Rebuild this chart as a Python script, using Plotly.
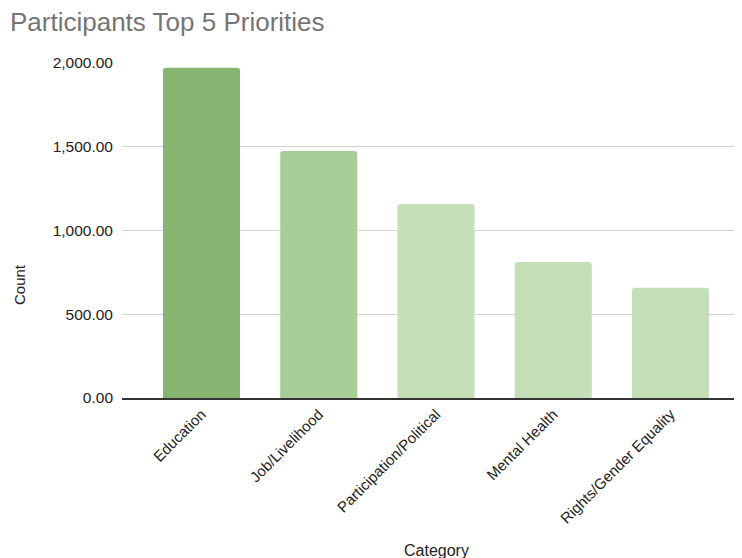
import plotly.graph_objects as go

categories = ["Education", "Job/Livelihood", "Participation/Political", "Mental Health", "Rights/Gender Equality"]
counts = [1972, 1475, 1158, 812, 658]
colors = ["#87b470", "#a9cd97", "#c5dfb9", "#c5dfb9", "#c5dfb9"]
y_ticks = [0, 500, 1000, 1500, 2000]

# the page shows the figure with an 8 px body margin, so offsets are compensated
OFF = 8
W, H = 742, 558
L, R, T, B = 122 - OFF, 0, 63 - OFF, H - (398 - OFF)
pw, ph = W - L - R, H - T - B
spacing = 117.25
x0 = -(201.5 - 122) / spacing
x1 = x0 + pw / spacing

fig = go.Figure(go.Bar(
    x=categories, y=counts,
    marker=dict(color=colors, line=dict(width=0), cornerradius=3),
    width=0.657,
))

fig.update_layout(
    width=W, height=H,
    paper_bgcolor="white", plot_bgcolor="white",
    font=dict(family="Liberation Sans, Arial, sans-serif", color="#222222"),
    title=dict(text="Participants Top 5 Priorities", x=(10 - OFF) / W, xanchor="left",
               xref="container", yref="container",
               y=1 - (22 - OFF) / H, yanchor="middle",
               font=dict(size=26, color="#757575")),
    margin=dict(l=L, r=R, t=T, b=B, autoexpand=False),
    showlegend=False,
    annotations=[
        dict(text="Category", xref="paper", yref="paper",
             x=(436 - OFF - L) / pw, y=(398 - 550) / ph,
             xanchor="center", yanchor="middle", showarrow=False,
             font=dict(size=16, color="#222222")),
        dict(text="Count", xref="paper", yref="paper",
             x=(19 - OFF - L) / pw, y=(398 - 285) / ph, textangle=-90,
             xanchor="center", yanchor="middle", showarrow=False,
             font=dict(size=15, color="#222222")),
    ],
)
fig.update_yaxes(
    range=[0, 2000], tickvals=y_ticks, tickformat=",.2f",
    showgrid=True, gridcolor="#d3d3d3", gridwidth=1,
    zeroline=False, showline=False, automargin=False,
    tickfont=dict(size=15.5, color="#222222"),
    ticks="", ticklabelstandoff=8,
)
fig.update_xaxes(
    range=[x0, x1], automargin=False,
    showline=True, linecolor="#333333", linewidth=1.5,
    tickangle=-45, tickfont=dict(size=15, color="#222222"),
    ticks="",
)

fig.write_html("out.html")
